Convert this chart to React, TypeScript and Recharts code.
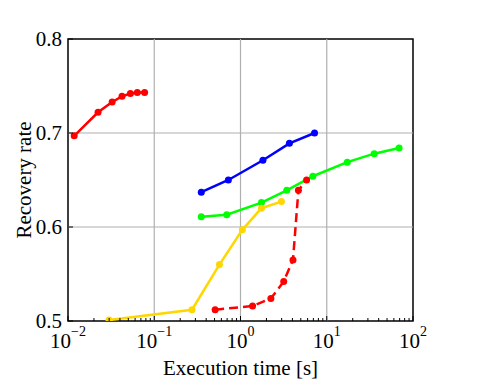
import React from 'react';
import { LineChart, Line, XAxis, YAxis, ReferenceLine, ReferenceArea } from 'recharts';

const redSolidX = [0.0118, 0.0223, 0.0325, 0.0423, 0.0529, 0.0636, 0.0773];
const redSolidY = [0.697, 0.722, 0.733, 0.739, 0.742, 0.743, 0.743];
const blueX = [0.351, 0.723, 1.82, 3.69, 7.22];
const blueY = [0.637, 0.65, 0.671, 0.689, 0.7];
const greenX = [0.351, 0.693, 1.75, 3.44, 6.9, 17.3, 35.5, 69];
const greenY = [0.611, 0.613, 0.626, 0.639, 0.654, 0.669, 0.678, 0.684];
const yellowX = [0.0299, 0.274, 0.57, 1.05, 1.75, 2.98];
const yellowY = [0.501, 0.512, 0.56, 0.597, 0.62, 0.627];
const redDashedX = [0.508, 1.38, 2.25, 3.17, 4.06, 4.69, 5.84];
const redDashedY = [0.512, 0.516, 0.524, 0.542, 0.565, 0.639, 0.65];

const xMajorTicks = [0.01, 0.1, 1, 10, 100];
const xMinorMultipliers = [2, 3, 4, 5, 6, 7, 8, 9];
const yTicks = [0.5, 0.6, 0.7, 0.8];
const xGrid = [0.1, 1, 10];
const yGrid = [0.6, 0.7];

const xTicks: number[] = [];
xMajorTicks.forEach((m, i) => {
  xTicks.push(m);
  if (i < xMajorTicks.length - 1) xMinorMultipliers.forEach((k) => xTicks.push(+(m * k).toPrecision(6)));
});

const zip = (xs: number[], ys: number[]) => xs.map((x, i) => ({ x, y: ys[i] }));

const FONT = "'Liberation Serif', 'Times New Roman', 'DejaVu Serif', serif";
const textStyle = { fontFamily: FONT };

const XTick = (props: any) => {
  const { x, y, payload } = props;
  const v = payload.value;
  const lg = Math.log10(v);
  const e = Math.round(lg);
  const major = Math.abs(lg - e) < 1e-6;
  return (
    <g>
      <line x1={x} x2={x} y1={y} y2={y - (major ? 5 : 3)} stroke="#000" strokeWidth={1} />
      {major && (
        <text x={x} y={y + 27} textAnchor="middle" style={textStyle} fontSize={21} fill="#000">
          <tspan>10</tspan>
          <tspan dy={-12} fontSize={14}>{e < 0 ? '\u2212' + Math.abs(e) : String(e)}</tspan>
        </text>
      )}
    </g>
  );
};

const YTick = (props: any) => {
  const { x, y, payload } = props;
  return (
    <g>
      <line x1={x} x2={x + 5} y1={y} y2={y} stroke="#000" strokeWidth={1} />
      <text x={x - 6} y={y + 7} textAnchor="end" style={textStyle} fontSize={21} fill="#000">
        {payload.value.toFixed(1)}
      </text>
    </g>
  );
};

const series = [
  { name: 'redSolid', data: zip(redSolidX, redSolidY), color: '#ff0000', dash: undefined },
  { name: 'blue', data: zip(blueX, blueY), color: '#0000ff', dash: undefined },
  { name: 'green', data: zip(greenX, greenY), color: '#00ff00', dash: undefined },
  { name: 'yellow', data: zip(yellowX, yellowY), color: '#ffd700', dash: undefined },
  { name: 'redDashed', data: zip(redDashedX, redDashedY), color: '#ff0000', dash: '9 5' },
];

export default function App() {
  return (
    <div style={{ width: 473, height: 382, fontFamily: FONT }}>
      <LineChart width={473} height={382} margin={{ top: 31, right: 68, bottom: 0, left: 0 }}>
        <XAxis
          type="number"
          dataKey="x"
          scale="log"
          domain={[0.01, 100]}
          ticks={xTicks}
          interval={0}
          allowDataOverflow
          tickSize={0}
          tickMargin={0}
          tickLine={false}
          axisLine={false}
          height={69}
          tick={<XTick />}
          label={{
            content: (p: any) => {
              const vb = p.viewBox;
              return (
                <text x={vb.x + vb.width / 2} y={vb.y + 54} textAnchor="middle" style={textStyle} fontSize={21} fill="#000">
                  Execution time [s]
                </text>
              );
            },
          }}
        />
        <YAxis
          type="number"
          dataKey="y"
          domain={[0.5, 0.8]}
          ticks={yTicks}
          interval={0}
          allowDataOverflow
          tickSize={0}
          tickMargin={0}
          tickLine={false}
          axisLine={false}
          width={60}
          tick={<YTick />}
          label={{
            content: (p: any) => {
              const vb = p.viewBox;
              const cy = vb.y + vb.height / 2;
              return (
                <text x={23} y={cy} transform={`rotate(-90, 23, ${cy})`} textAnchor="middle" style={textStyle} fontSize={21} fill="#000">
                  Recovery rate
                </text>
              );
            },
          }}
        />
        {xGrid.map((g) => (
          <ReferenceLine key={'gx' + g} x={g} stroke="#b0b0b0" strokeWidth={1.2} />
        ))}
        {yGrid.map((g) => (
          <ReferenceLine key={'gy' + g} y={g} stroke="#b0b0b0" strokeWidth={1.2} />
        ))}
        {series.map((s) => (
          <Line
            key={s.name}
            data={s.data}
            dataKey="y"
            type="linear"
            stroke={s.color}
            strokeWidth={2.5}
            strokeDasharray={s.dash}
            dot={{ r: 3.5, fill: s.color, stroke: s.color, strokeWidth: 0 }}
            activeDot={false}
            isAnimationActive={false}
          />
        ))}
        <ReferenceArea x1={0.01} x2={100} y1={0.5} y2={0.8} fill="none" stroke="#000" strokeWidth={1.5} />
      </LineChart>
    </div>
  );
}
